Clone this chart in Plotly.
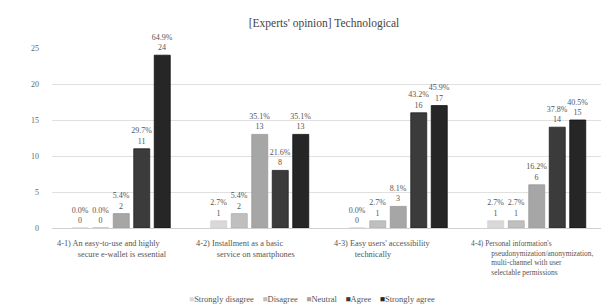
import plotly.graph_objects as go

categories = [
    "4-1) An easy-to-use and highly<br>secure e-wallet is essential",
    "4-2) Installment as a basic<br>service on smartphones",
    "4-3) Easy users' accessibility<br>technically",
    "4-4) Personal information's<br>pseudonymization/anonymization,<br>multi-channel with user<br>selectable permissions",
]
series_names = ["Strongly disagree", "Disagree", "Neutral", "Agree", "Strongly agree"]
strongly_disagree = [0, 1, 0, 1]
disagree = [0, 2, 1, 1]
neutral = [2, 13, 3, 6]
agree = [11, 8, 16, 14]
strongly_agree = [24, 13, 17, 15]
pct_strongly_disagree = ["0.0%", "2.7%", "0.0%", "2.7%"]
pct_disagree = ["0.0%", "5.4%", "2.7%", "2.7%"]
pct_neutral = ["5.4%", "35.1%", "8.1%", "16.2%"]
pct_agree = ["29.7%", "21.6%", "43.2%", "37.8%"]
pct_strongly_agree = ["64.9%", "35.1%", "45.9%", "40.5%"]
y_ticks = [0, 5, 10, 15, 20, 25]

values = [strongly_disagree, disagree, neutral, agree, strongly_agree]
pcts = [pct_strongly_disagree, pct_disagree, pct_neutral, pct_agree, pct_strongly_agree]
colors = ["#d9d9d9", "#bfbfbf", "#a6a6a6", "#3b3b3b", "#262626"]
lines = ["#d0d0d0", "#b0b0b0", "#999999", "#222222", "#111111"]

FONT = "Liberation Serif"
TXT = "#555555"
fig = go.Figure()
xs = list(range(len(categories)))
for name, v, p, c, lc in zip(series_names, values, pcts, colors, lines):
    fig.add_trace(go.Bar(
        x=xs, y=v, name=name,
        marker=dict(color=c, line=dict(color=lc, width=0.8)),
        text=[f"{a}<br>{b}" for a, b in zip(p, v)],
        textposition="outside",
        textfont=dict(family=FONT, size=8, color=TXT),
        outsidetextfont=dict(family=FONT, size=8, color=TXT),
        constraintext="none",
        cliponaxis=False,
        showlegend=False,
    ))

# category labels as left-aligned annotations (hanging indent) below the axis
for i, cat in enumerate(categories):
    parts = cat.split("<br>")
    long_label = len(parts) > 2
    fsize = 7.4 if long_label else 8.3
    indent = "&nbsp;" * (11 if long_label else 10)
    txt = "<br>".join([parts[0]] + [indent + s for s in parts[1:]])
    fig.add_annotation(
        xref="x", yref="paper",
        x=i, xshift=-68 if long_label else -66, y=-(229 - 220) / 180,
        xanchor="left", yanchor="top",
        text=txt, showarrow=False, align="left",
        font=dict(family=FONT, size=fsize, color=TXT),
    )

# compact legend as a text line with coloured squares
legend_text = "&nbsp;&nbsp;&nbsp;&nbsp;".join(
    f"<span style='color:{c}'>■</span>{n}" for n, c in zip(series_names, colors)
)
fig.add_annotation(
    xref="paper", yref="paper",
    x=(304 - 44) / 554, y=-(291 - 220) / 180,
    xanchor="center", yanchor="middle",
    text=legend_text, showarrow=False,
    font=dict(family=FONT, size=8.5, color=TXT),
)

fig.update_layout(
    width=609, height=304,
    margin=dict(l=44, r=11, t=40, b=84),
    paper_bgcolor="white", plot_bgcolor="white",
    title=dict(text="[Experts' opinion] Technological", x=316 / 609, xanchor="center",
               y=1 - 15 / 304, yanchor="middle",
               font=dict(family=FONT, size=11.5, color="#444444")),
    barmode="group", bargap=0.26, bargroupgap=0.22,
    showlegend=False,
    xaxis=dict(range=[-0.5, 3.5], showticklabels=False, showgrid=False,
               showline=True, linecolor="#d0d0d0", linewidth=1, ticks="", zeroline=False),
    yaxis=dict(range=[0, 25], tickvals=y_ticks, showgrid=True, gridcolor="#e0e0e0",
               gridwidth=1, zeroline=False, showline=False,
               tickfont=dict(family=FONT, size=8, color="#666666"), ticklabelstandoff=12),
)

fig.write_html("out.html")
